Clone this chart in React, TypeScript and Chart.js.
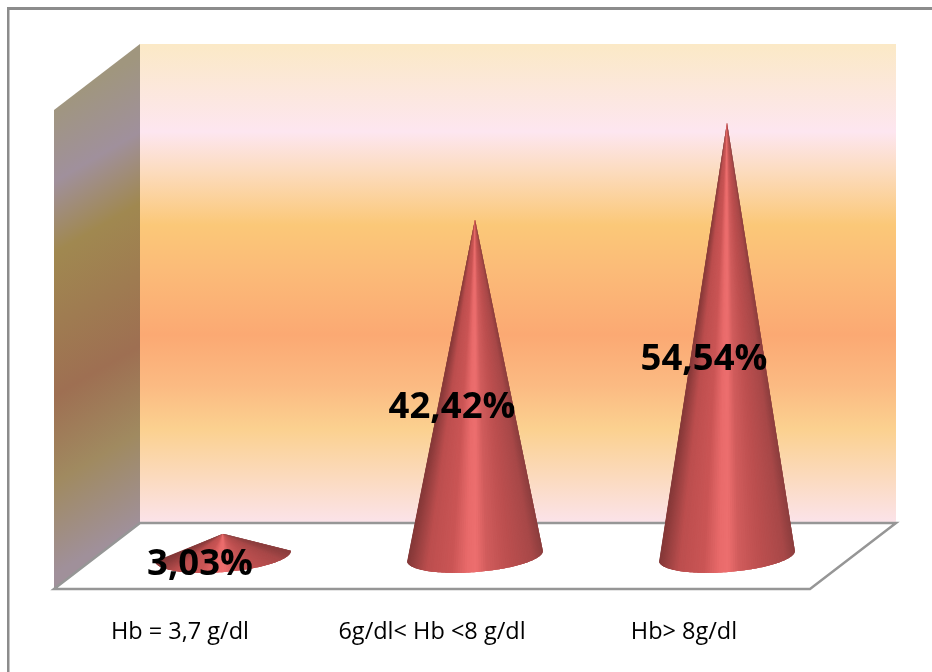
import React, { useEffect, useRef } from "react";
import { Chart, BarController, BarElement, CategoryScale, LinearScale } from "chart.js";

const categories = ["Hb = 3,7 g/dl", "6g/dl< Hb <8 g/dl", "Hb> 8g/dl"];
const shares = [3.03, 42.42, 54.54];
const axisMax = 60;

const WIDTH = 932;
const HEIGHT = 672;
// Depth of the box: how far the back wall sits from the front plane.
const DEPTH_X = 86;
const DEPTH_Y = 66;
const EDGE = "#969696";
const FONT = '"Open Sans", Lato, sans-serif';

const wallStops: [number, string][] = [
  [44, "#fbe9c6"],
  [132, "#fde6f0"],
  [170, "#fcdcc0"],
  [225, "#fbc878"],
  [270, "#fbbb78"],
  [335, "#fba973"],
  [385, "#fbba82"],
  [430, "#fbd190"],
  [523, "#fbe3ea"],
];
const sideStops: [number, string][] = [
  [0.03, "#a0967e"],
  [0.18, "#a0909c"],
  [0.32, "#a08850"],
  [0.6, "#9e6f52"],
  [0.77, "#a08a60"],
  [0.95, "#a0909a"],
];
const coneShade: [number, number[]][] = [
  [0, [140, 62, 62]],
  [0.08, [168, 72, 72]],
  [0.28, [190, 80, 80]],
  [0.42, [208, 92, 92]],
  [0.5, [236, 110, 110]],
  [0.57, [232, 106, 106]],
  [0.68, [202, 85, 85]],
  [0.86, [188, 78, 78]],
  [1, [132, 56, 56]],
];

function shadeAt(u: number) {
  for (let i = 1; i < coneShade.length; i++) {
    const [u1, c1] = coneShade[i];
    const [u0, c0] = coneShade[i - 1];
    if (u <= u1) {
      const k = (u - u0) / (u1 - u0);
      const ch = c0.map((v, j) => Math.round(v + (c1[j] - v) * k));
      return `rgb(${ch[0]},${ch[1]},${ch[2]})`;
    }
  }
  return "rgb(132,56,56)";
}

// Bar element that paints itself as a shaded cone standing on the floor of the box.
class ConeElement extends BarElement {
  static id = "cone";
  static defaults = BarElement.defaults;
  draw(ctx: CanvasRenderingContext2D) {
    const self = this as any;
    const cx = self.x + DEPTH_X / 2;
    const cy = self.base - DEPTH_Y / 2;
    const apexY = self.y - DEPTH_Y / 2 + 2;
    const rx = self.width / 2;
    const ry = 16;
    const tilt = (-4.5 * Math.PI) / 180;
    const point = (t: number) => {
      const px = rx * Math.cos(t);
      const py = ry * Math.sin(t);
      return [
        cx + px * Math.cos(tilt) - py * Math.sin(tilt),
        cy + px * Math.sin(tilt) + py * Math.cos(tilt),
      ];
    };
    ctx.save();
    // Each wedge reaches under its successor, so no seams show between them.
    const steps = 90;
    for (let i = 0; i < steps; i++) {
      const mid = Math.PI - ((i + 0.5) / steps) * Math.PI;
      ctx.beginPath();
      ctx.moveTo(cx, apexY);
      const p = point(Math.PI - (i / steps) * Math.PI);
      ctx.lineTo(p[0], p[1]);
      for (let t = i + 1; t <= Math.min(i + 3, steps); t++) {
        const q = point(Math.PI - (t / steps) * Math.PI);
        ctx.lineTo(q[0], q[1]);
      }
      ctx.closePath();
      ctx.fillStyle = shadeAt((1 - Math.cos(mid)) / 2);
      ctx.fill();
    }
    ctx.restore();
  }
}

class ConeController extends BarController {
  static id = "cone";
  static defaults = { ...BarController.defaults, dataElementType: "cone" };
  static overrides = BarController.overrides;
}

Chart.register(ConeController, ConeElement, CategoryScale, LinearScale);

// Frame lines, back wall, side wall and floor of the box.
const boxPlugin = {
  id: "box",
  beforeDatasetsDraw(chart: any) {
    const { ctx, chartArea } = chart;
    const { left, right, top, bottom } = chartArea;
    const backL = left + DEPTH_X;
    const backR = right + DEPTH_X;
    const backT = top - DEPTH_Y;
    const backB = bottom - DEPTH_Y;

    ctx.save();
    ctx.fillStyle = "#8c8c8c";
    ctx.fillRect(7, 7, WIDTH - 7, 3);
    ctx.fillRect(7, 7, 2.5, HEIGHT - 7);

    const wall = ctx.createLinearGradient(0, backT, 0, backB);
    wallStops.forEach(([y, c]) => wall.addColorStop((y - backT) / (backB - backT), c));
    ctx.fillStyle = wall;
    ctx.fillRect(backL, backT, backR - backL, backB - backT);

    const side = ctx.createLinearGradient(left, 90, left + 221.6, 90 + 381);
    sideStops.forEach(([t, c]) => side.addColorStop(t, c));
    ctx.fillStyle = side;
    ctx.beginPath();
    ctx.moveTo(left, top);
    ctx.lineTo(backL, backT);
    ctx.lineTo(backL, backB);
    ctx.lineTo(left, bottom);
    ctx.closePath();
    ctx.fill();

    ctx.strokeStyle = EDGE;
    ctx.lineWidth = 2.5;
    ctx.beginPath();
    ctx.moveTo(left, bottom);
    ctx.lineTo(backL, backB);
    ctx.lineTo(backR, backB);
    ctx.lineTo(right, bottom);
    ctx.closePath();
    ctx.stroke();
    ctx.restore();
  },
};

// Percentage labels in bold, written with a decimal comma over each cone.
const valueLabelPlugin = {
  id: "valueLabels",
  afterDatasetsDraw(chart: any) {
    const { ctx } = chart;
    const meta = chart.getDatasetMeta(0);
    ctx.save();
    ctx.font = `bold 36.5px ${FONT}`;
    ctx.fillStyle = "#000";
    ctx.textAlign = "center";
    ctx.textBaseline = "middle";
    meta.data.forEach((el: any, i: number) => {
      const text = shares[i].toFixed(2).replace(".", ",") + "%";
      const mid = (el.y + el.base) / 2 - DEPTH_Y / 2;
      ctx.fillText(text, el.x + 20, mid + 21);
    });
    ctx.restore();
  },
};

export default function App() {
  const ref = useRef<HTMLCanvasElement>(null);
  useEffect(() => {
    if (!ref.current) return;
    const chart = new Chart(ref.current, {
      type: "cone" as any,
      data: {
        labels: categories,
        datasets: [
          {
            data: shares,
            categoryPercentage: 1,
            barPercentage: 0.54,
          },
        ],
      } as any,
      options: {
        animation: false,
        responsive: false,
        layout: { padding: { left: 54, right: 122, top: 110, bottom: 0 } },
        plugins: { legend: { display: false }, tooltip: { enabled: false } },
        scales: {
          x: {
            type: "category",
            grid: { display: false },
            border: { display: false },
            afterFit(scale: any) {
              scale.height = 83;
            },
            ticks: {
              padding: 21,
              color: "#000",
              maxRotation: 0,
              autoSkip: false,
              font: { family: FONT, size: 23.5 },
            },
          },
          y: { display: false, min: 0, max: axisMax },
        },
      } as any,
      plugins: [boxPlugin, valueLabelPlugin],
    });
    return () => chart.destroy();
  }, []);
  return (
    <div style={{ position: "absolute", left: 0, top: 0, width: WIDTH, height: HEIGHT, background: "#fff" }}>
      <canvas ref={ref} width={WIDTH} height={HEIGHT} style={{ display: "block" }} />
    </div>
  );
}
